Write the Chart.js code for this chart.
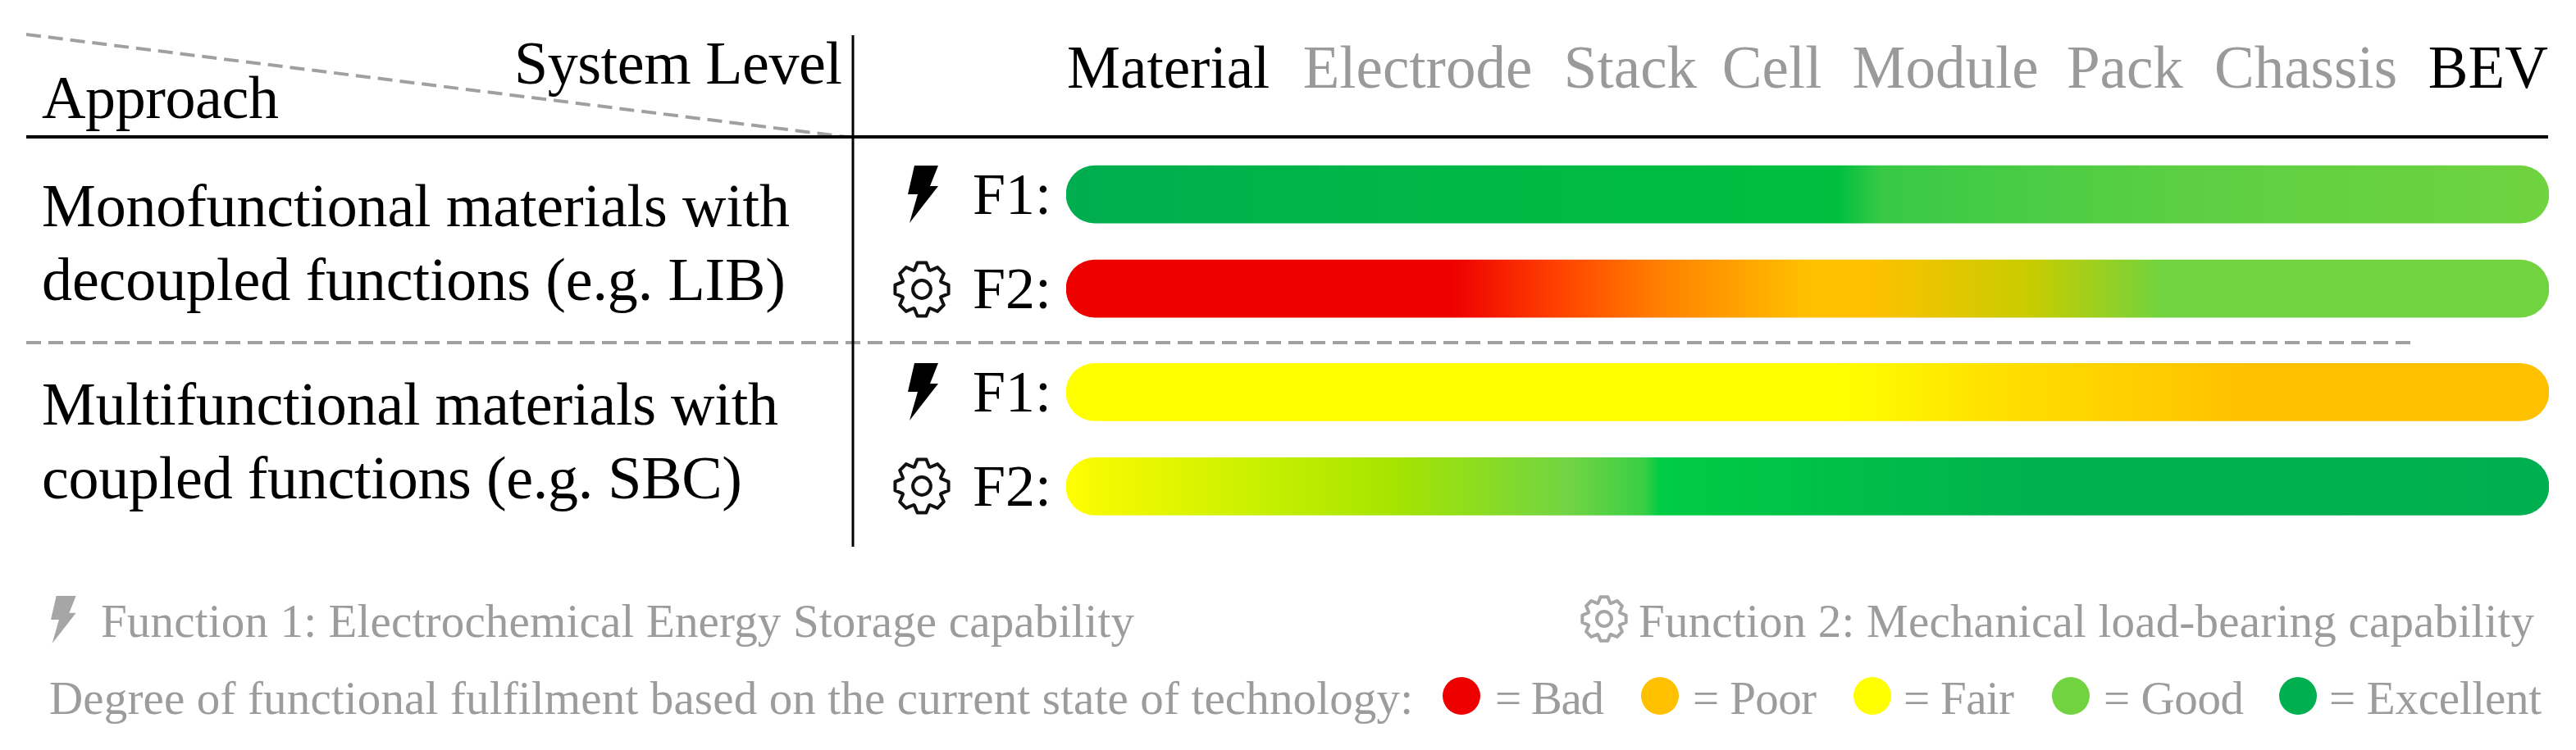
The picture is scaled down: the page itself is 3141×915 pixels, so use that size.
<!DOCTYPE html>
<html>
<head>
<meta charset="utf-8">
<title>Functional fulfilment by system level</title>
<script src="https://cdn.jsdelivr.net/npm/chart.js@4/dist/chart.umd.min.js"></script>
<style>
  html, body { margin: 0; background: #fff; }
  canvas { display: block; }
</style>
</head>
<body>
<canvas id="chart" width="3141" height="915"></canvas>
<script>
// system levels and where their labels sit along the 0-100 axis
const levels = ['Material', 'Electrode', 'Stack', 'Cell', 'Module', 'Pack', 'Chassis', 'BEV'];
const levelTicks = [6.9, 23.7, 38.05, 47.6, 59.3, 71.4, 83.6, 95.9];
const levelColors = ['#000', '#9a9a9a', '#9a9a9a', '#9a9a9a', '#9a9a9a', '#9a9a9a', '#9a9a9a', '#000'];

const rowLabels = ['F1:', 'F2:', 'F1:', 'F2:'];
const barStart = [0, 0, 0, 0];
const barEnd = [100, 100, 100, 100];

// colour along each bar
const monoF1Stops = [0, 20, 52, 55, 75, 100];
const monoF1Colors = ['#00ad4f', '#00b648', '#00bf3f', '#38c947', '#5ccf43', '#70d33f'];
const monoF2Stops = [0, 26, 33, 40, 50, 54, 65, 74, 100];
const monoF2Colors = ['#ee0000', '#ee0000', '#ff4000', '#ff8000', '#ffc000', '#ffc000', '#c8cc00', '#70d33f', '#70d33f'];
const multiF1Stops = [0, 52, 63, 80, 100];
const multiF1Colors = ['#ffff00', '#ffff00', '#ffdf00', '#ffc000', '#ffc000'];
const multiF2Stops = [0, 2, 13, 22, 34, 39, 40, 65, 100];
const multiF2Colors = ['#ffff00', '#f6fa00', '#c8f000', '#a6e400', '#70d444', '#38cf44', '#00cc44', '#00b24e', '#00b050'];

const ratingNames = ['= Bad', '= Poor', '= Fair', '= Good', '= Excellent'];
const ratingColors = ['#ee0000', '#ffc000', '#ffff00', '#70d33f', '#00b050'];

const barStops = [monoF1Stops, monoF2Stops, multiF1Stops, multiF2Stops];
const barColors = [monoF1Colors, monoF2Colors, multiF1Colors, multiF2Colors];

const SERIF = '"Liberation Serif", serif';
const GROUP_GAP = 0.096;
const rowY = (i) => i + (i >= 2 ? GROUP_GAP : 0);

// text x, right edge and baseline are layout only
const blackText = [
  ['System Level', 627, 1027, 102],
  ['Approach', 51, 340, 144],
  ['Monofunctional materials with', 51, 963, 276],
  ['decoupled functions (e.g. LIB)', 51, 958, 366],
  ['Multifunctional materials with', 51, 949, 518],
  ['coupled functions (e.g. SBC)', 51, 905, 608],
];
const grayText = [
  ['Function 1: Electrochemical Energy Storage capability', 123, 1383, 777],
  ['Function 2: Mechanical load-bearing capability', 1998, 3090, 777],
  ['Degree of functional fulfilment based on the current state of technology:', 60, 1723, 871],
];
const ratingDotX = [1782, 2024, 2283, 2525, 2802];
const ratingTextX = [[1823, 1956], [2064, 2215], [2321, 2456], [2565, 2736], [2840, 3099]];

function fitText(ctx, text, x, right, y) {
  ctx.letterSpacing = '0px';
  const extra = (right - x - ctx.measureText(text).width) / (text.length - 1);
  ctx.letterSpacing = extra.toFixed(3) + 'px';
  ctx.fillText(text, x, y);
  ctx.letterSpacing = '0px';
}

function bolt(ctx, x, y, h, color) {
  const k = h / 70;
  const pts = [[8, 0], [37, 0], [27, 25], [37, 25], [2, 70], [12, 35], [0, 35]];
  ctx.beginPath();
  pts.forEach(([px, py]) => ctx.lineTo(x + px * k, y + py * k));
  ctx.closePath();
  ctx.fillStyle = color;
  ctx.fill();
}

function gear(ctx, cx, cy, r, color, lw) {
  const teeth = 8;
  const inner = r * 0.76;
  ctx.beginPath();
  for (let i = 0; i < teeth; i++) {
    const a = (i / teeth) * Math.PI * 2 - Math.PI / 2;
    const w = Math.PI / teeth;
    [[-w * 0.95, inner], [-w * 0.42, r], [w * 0.42, r], [w * 0.95, inner]].forEach(([d, rad]) => {
      ctx.lineTo(cx + Math.cos(a + d) * rad, cy + Math.sin(a + d) * rad);
    });
  }
  ctx.closePath();
  ctx.lineJoin = 'round';
  ctx.strokeStyle = color;
  ctx.lineWidth = lw;
  ctx.stroke();
  ctx.beginPath();
  ctx.arc(cx, cy, r * 0.33, 0, Math.PI * 2);
  ctx.stroke();
}

function rule(ctx, x0, y0, x1, y1, width, color, dash) {
  ctx.beginPath();
  ctx.setLineDash(dash || []);
  ctx.moveTo(x0, y0);
  ctx.lineTo(x1, y1);
  ctx.lineWidth = width;
  ctx.strokeStyle = color;
  ctx.stroke();
  ctx.setLineDash([]);
}

const tableDecor = {
  id: 'tableDecor',
  afterDraw(chart) {
    const { ctx } = chart;
    ctx.save();
    rule(ctx, 32, 42, 1032, 167, 4, '#a0a0a0', [18, 9]);
    rule(ctx, 32, 418, 2939, 418, 4, '#a0a0a0', [18, 9]);
    rule(ctx, 32, 167, 3107, 167, 4, '#000');
    rule(ctx, 1040, 43, 1040, 667, 3, '#000');

    ctx.textBaseline = 'alphabetic';
    ctx.textAlign = 'left';
    ctx.font = `74px ${SERIF}`;
    ctx.fillStyle = '#000';
    blackText.forEach(([t, x, r, y]) => fitText(ctx, t, x, r, y));
    ctx.font = `57px ${SERIF}`;
    ctx.fillStyle = '#9c9c9c';
    grayText.forEach(([t, x, r, y]) => fitText(ctx, t, x, r, y));
    ratingNames.forEach((name, i) => {
      fitText(ctx, name, ratingTextX[i][0], ratingTextX[i][1], 871);
      ctx.save();
      ctx.beginPath();
      ctx.arc(ratingDotX[i], 849, 23, 0, Math.PI * 2);
      ctx.fillStyle = ratingColors[i];
      ctx.fill();
      ctx.restore();
    });

    bolt(ctx, 1107, 202, 70, '#000');
    gear(ctx, 1124, 353, 33, '#111', 4);
    bolt(ctx, 1107, 443, 70, '#000');
    gear(ctx, 1124, 593, 33, '#111', 4);
    bolt(ctx, 62, 727, 58, '#a6a6a6');
    gear(ctx, 1956, 755, 27, '#a6a6a6', 4);
    ctx.restore();
  },
};

new Chart(document.getElementById('chart'), {
  type: 'bar',
  data: {
    datasets: [{
      data: rowLabels.map((_, i) => ({ x: [barStart[i], barEnd[i]], y: rowY(i) })),
      barThickness: 70,
      borderRadius: 35,
      borderSkipped: false,
      backgroundColor: (c) => {
        const { chart, dataIndex } = c;
        const area = chart.chartArea;
        if (!area || dataIndex === undefined) return '#ccc';
        const g = chart.ctx.createLinearGradient(area.left, 0, area.right, 0);
        barStops[dataIndex].forEach((s, i) => g.addColorStop(s / 100, barColors[dataIndex][i]));
        return g;
      },
    }],
  },
  options: {
    indexAxis: 'y',
    responsive: false,
    animation: false,
    layout: { padding: { left: 0, right: 33, top: 0, bottom: 264 } },
    plugins: { legend: { display: false }, tooltip: { enabled: false } },
    scales: {
      x: {
        type: 'linear',
        position: 'top',
        min: 0,
        max: 100,
        grid: { display: false, drawTicks: false },
        border: { display: false },
        afterBuildTicks: (s) => { s.ticks = levelTicks.map((value) => ({ value })); },
        // labels overhang the plot, do not let them shrink it
        afterFit: (s) => { s.height = 179.5; s.paddingLeft = 0; s.paddingRight = 0; },
        ticks: {
          autoSkip: false,
          maxRotation: 0,
          padding: 48,
          font: { family: SERIF, size: 73 },
          color: (c) => levelColors[c.index],
          callback: (v, i) => levels[i],
        },
      },
      y: {
        type: 'linear',
        reverse: true,
        offset: false,
        min: -0.5,
        max: 3 + GROUP_GAP + 0.5,
        grid: { display: false, drawTicks: false },
        border: { display: false },
        afterBuildTicks: (s) => { s.ticks = rowLabels.map((_, i) => ({ value: rowY(i) })); },
        afterFit: (s) => { s.width = 1300; s.paddingTop = 0; s.paddingBottom = 0; },
        ticks: {
          autoSkip: false,
          padding: 18,
          labelOffset: 5,
          font: { family: SERIF, size: 72 },
          color: '#000',
          callback: (v, i) => rowLabels[i],
        },
      },
    },
  },
  plugins: [tableDecor],
});
</script>
</body>
</html>
